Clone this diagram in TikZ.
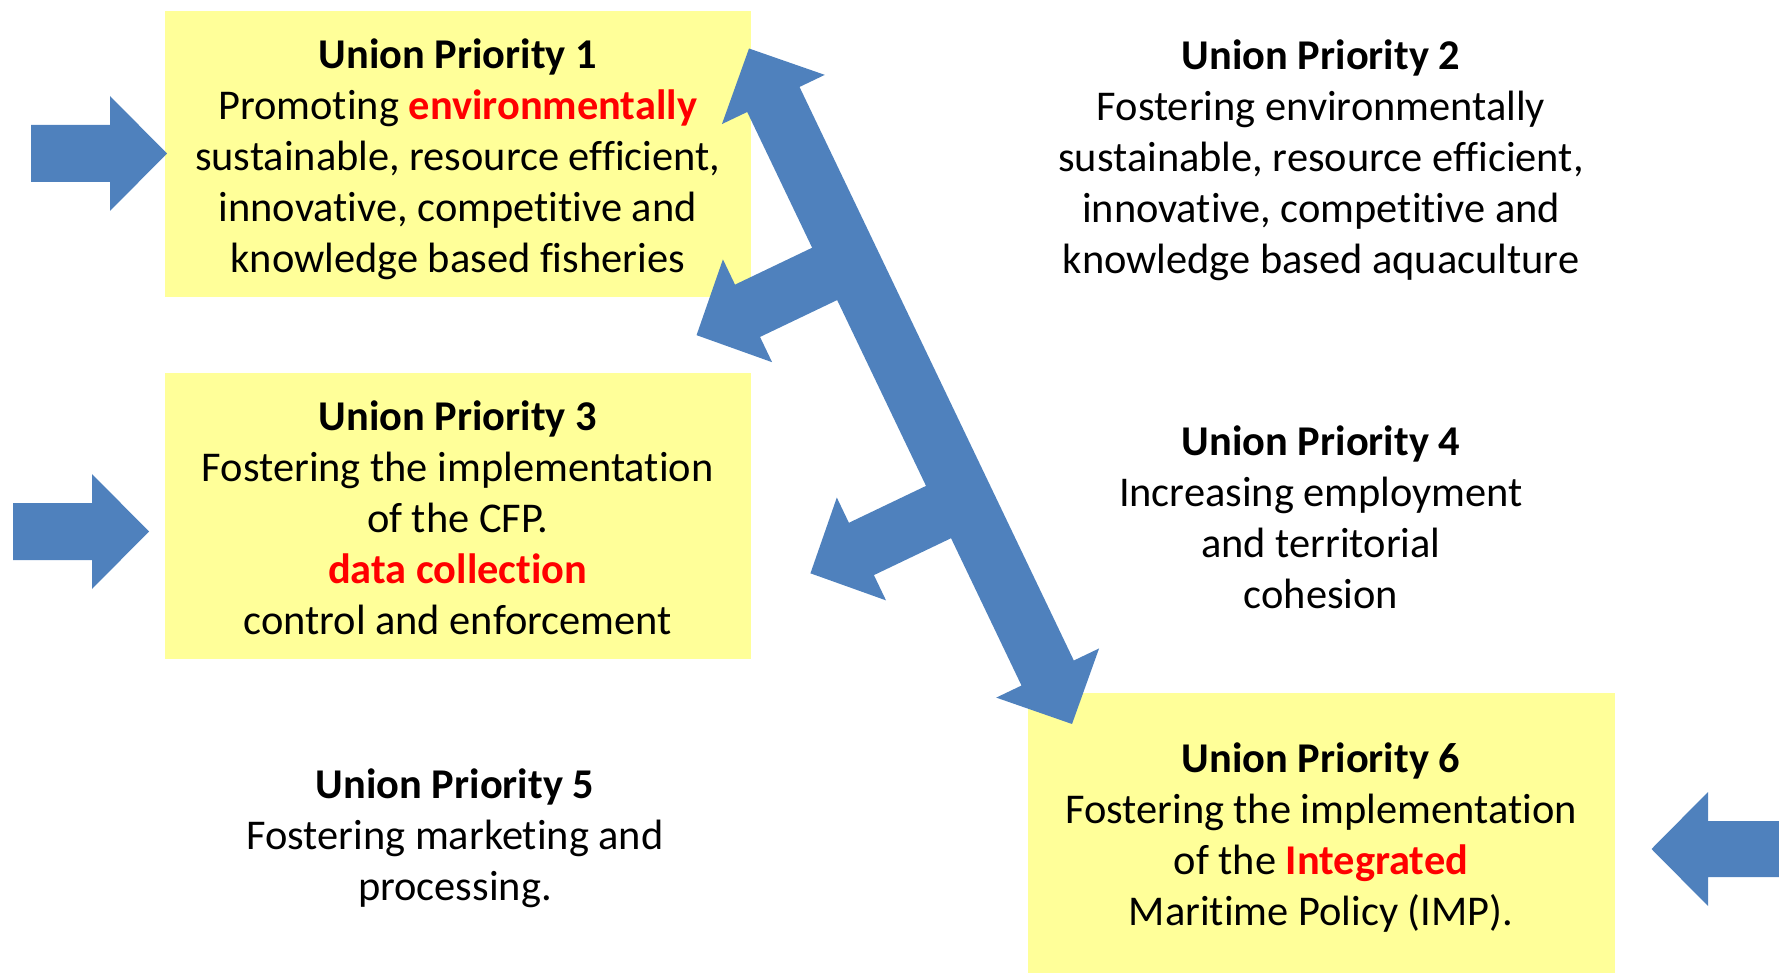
\documentclass[tikz,border=0pt]{standalone}
\usepackage{fontspec}
\setmainfont{Carlito}[Ligatures=NoCommon]
\definecolor{boxyellow}{HTML}{FFFF99}
\definecolor{arrowblue}{HTML}{4F81BD}
\definecolor{hired}{HTML}{FF0000}
\begin{document}
\begin{tikzpicture}[x=0.5pt,y=-0.5pt,
  ybox/.style={fill=boxyellow, draw=none, inner sep=0pt, minimum width=293.25pt, minimum height=143pt},
  txt/.style={align=center, inner sep=0pt, font=\fontsize{21.2}{25.5}\selectfont},
  blockarrow/.style={fill=arrowblue, draw=none}]
\useasboundingbox (0,0) rectangle (1779,973);
% boxes
\node[ybox] (box1) at (457.75,154) {};
\node[ybox] (box3) at (457.75,516.25) {};
\node[ybox, minimum height=140.5pt] (box6) at (1321.5,833.5) {};
% side arrows
\fill[blockarrow] (31,125)--(110,125)--(110,96)--(167,153.5)--(110,211)--(110,182)--(31,182)--cycle;
\fill[blockarrow] (13,503)--(92,503)--(92,474)--(149,531.5)--(92,589)--(92,560)--(13,560)--cycle;
\fill[blockarrow] (1779,821)--(1708,821)--(1708,792)--(1651.5,849)--(1708,906)--(1708,877)--(1779,877)--cycle;
% main double arrow with two branches
\begin{scope}[shift={(749,48.5)}, x={(0.2157pt,-0.45105pt)}, y={(0.45105pt,0.2157pt)}]
\fill[blockarrow] (0,0)--(56.5,57)--(56.5,29)--(692.3,29)--(692.3,57)--(748.8,0)--(692.3,-57)--(692.3,-29)
  --(529,-29)--(529,-114.5)--(557,-114.5)--(500,-171)--(443,-114.5)--(471,-114.5)--(471,-29)
  --(265,-29)--(265,-114.5)--(293,-114.5)--(236,-171)--(179,-114.5)--(207,-114.5)--(207,-29)
  --(56.5,-29)--(56.5,-57)--cycle;
\end{scope}
% texts
\node[txt] (t1) at (457.7,158.9) {\textbf{Union Priority 1}\\Promoting \textbf{\color{hired}environmentally}\\sustainable, resource efficient,\\innovative, competitive and\\knowledge based fisheries};
\node[txt] (t2) at (1321,160) {\textbf{Union Priority 2}\\Fostering environmentally\\sustainable, resource efficient,\\innovative, competitive and\\knowledge based aquaculture};
\node[txt] (t3) at (457.7,517.4) {\textbf{Union Priority 3}\\Fostering the implementation\\of the CFP.\\\textbf{\color{hired}data collection}\\control and enforcement};
\node[txt] (t4) at (1321,516.9) {\textbf{Union Priority 4}\\Increasing employment\\and territorial\\cohesion};
\node[txt] (t5) at (455,838) {\textbf{Union Priority 5}\\Fostering marketing and\\processing.};
\node[txt] (t6) at (1321,837.9) {\textbf{Union Priority 6}\\Fostering the implementation\\of the \textbf{\color{hired}Integrated}\\Maritime Policy (IMP).};
\end{tikzpicture}
\end{document}
